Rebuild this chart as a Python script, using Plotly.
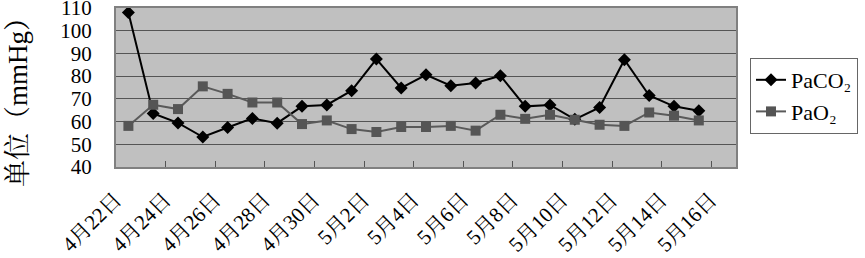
import plotly.graph_objects as go

dates = ["4月22日", "4月23日", "4月24日", "4月25日", "4月26日", "4月27日", "4月28日",
         "4月29日", "4月30日", "5月1日", "5月2日", "5月3日", "5月4日", "5月5日",
         "5月6日", "5月7日", "5月8日", "5月9日", "5月10日", "5月11日", "5月12日",
         "5月13日", "5月14日", "5月15日", "5月16日"]
paco2 = [108, 63.6, 59.4, 53.2, 57.4, 61.4, 59.3, 66.7, 67.3, 73.6, 87.5, 74.8,
         80.6, 75.8, 77, 80.2, 66.7, 67.3, 61, 66.2, 87.2, 71.5, 66.7, 64.8, None]
pao2 = [58.1, 67.4, 65.5, 75.5, 72.2, 68.4, 68.4, 58.9, 60.5, 56.7, 55.4, 57.6,
        57.6, 58.1, 56, 63, 61.2, 63, 60.8, 58.6, 58.1, 64, 62.6, 60.5, None]
y_ticks = [40, 50, 60, 70, 80, 90, 100, 110]
series_names = ["PaCO₂", "PaO₂"]

idx = list(range(len(dates)))
label_idx = idx[::2]
boundary_ticks = [i + 1.5 for i in idx[::2][:-1]]

serif = "Liberation Serif, Noto Serif CJK SC, Noto Sans CJK SC, serif"

fig = go.Figure()
fig.add_trace(go.Scatter(
    x=idx, y=paco2, name=series_names[0], mode="lines+markers",
    line=dict(color="#000000", width=2),
    marker=dict(symbol="diamond", size=10, color="#000000"),
))
fig.add_trace(go.Scatter(
    x=idx, y=pao2, name=series_names[1], mode="lines+markers",
    line=dict(color="#5a5a5a", width=2),
    marker=dict(symbol="square", size=10, color="#555555"),
))
# invisible trace to activate the boundary tick axis
fig.add_trace(go.Scatter(x=[idx[0]], y=[y_ticks[0]], xaxis="x2", mode="markers",
                         marker=dict(opacity=0), showlegend=False, hoverinfo="skip"))

fig.update_layout(
    width=865, height=258,
    margin=dict(l=116, r=129, t=8, b=91, autoexpand=False),
    paper_bgcolor="white",
    plot_bgcolor="#c0c0c0",
    font=dict(family=serif, color="#000000"),
    xaxis=dict(
        range=[-0.5, len(dates) - 0.5],
        tickvals=label_idx,
        ticktext=[dates[i] for i in label_idx],
        tickangle=-45,
        tickfont=dict(size=21, family=serif),
        ticks="",
        showgrid=False, zeroline=False,
        showline=True, linecolor="#808080", linewidth=2, mirror=True,
        ticklabelshift=-13,
        ticklabelstandoff=10,
        automargin=False,
    ),
    xaxis2=dict(
        overlaying="x", range=[-0.5, len(dates) - 0.5],
        tickvals=boundary_ticks, ticks="inside", ticklen=6, tickcolor="#555555",
        tickwidth=1, showticklabels=False, showgrid=False, zeroline=False,
        side="bottom", automargin=False,
    ),
    yaxis=dict(
        range=[40, 110], tickvals=y_ticks,
        tickfont=dict(size=21, family=serif),
        showgrid=True, gridcolor="#555555", gridwidth=1,
        zeroline=False, ticks="",
        showline=True, linecolor="#808080", linewidth=2, mirror=True,
        ticklabelstandoff=18,
        ticklabeloverflow="allow",
        automargin=False,
    ),
    legend=dict(
        x=(750 - 116) / 620, y=(167 - 58) / 159, xanchor="left", yanchor="top",
        bgcolor="white", bordercolor="#666666", borderwidth=1,
        font=dict(size=22, family=serif),
        tracegroupgap=0,
    ),
    annotations=[dict(
        text="单位（mmHg）", textangle=-90,
        x=(18 - 116) / 620, y=(167 - 96) / 159, xref="paper", yref="paper",
        xanchor="center", yanchor="middle", showarrow=False,
        font=dict(size=27, family=serif),
    )],
)

fig.write_html("out.html")
